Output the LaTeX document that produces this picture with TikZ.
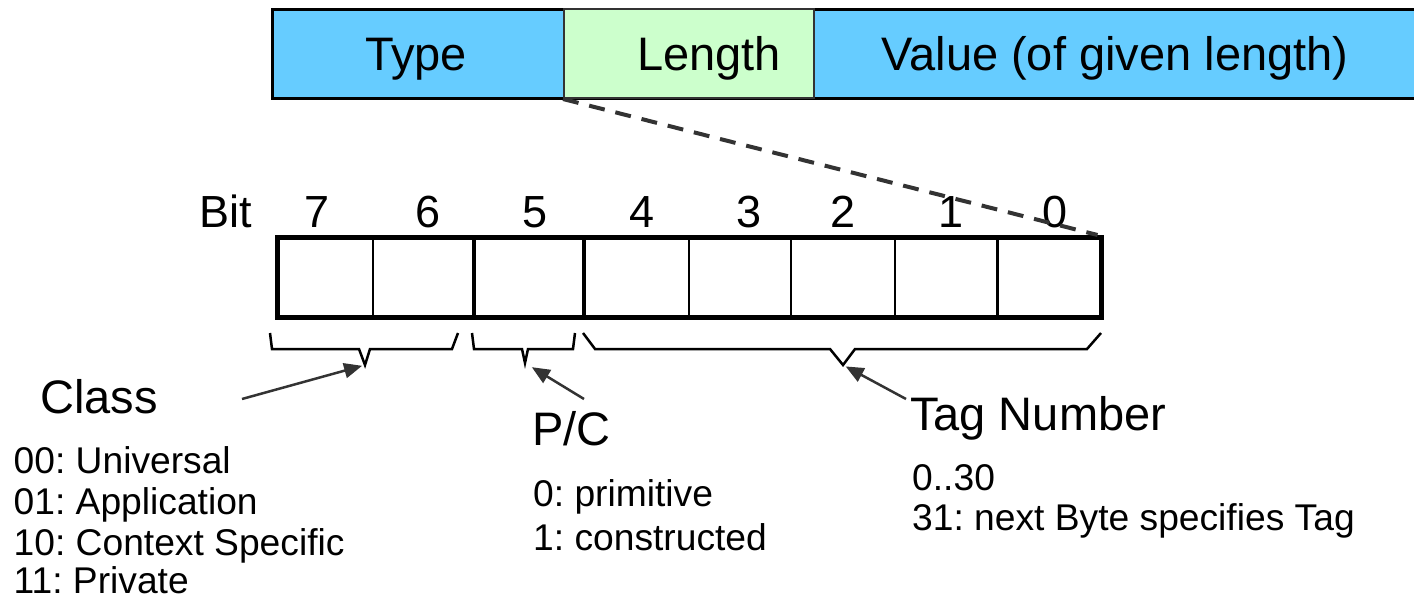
\documentclass[tikz,border=0pt]{standalone}
\usepackage{fontspec}
\setmainfont{Liberation Sans}
\usetikzlibrary{arrows.meta}
\definecolor{tlvblue}{HTML}{66CCFF}
\definecolor{tlvgreen}{HTML}{CCFFCC}
\definecolor{dgray}{HTML}{333333}
\frenchspacing
\begin{document}
\begin{tikzpicture}[x=1pt,y=-1pt,
  big/.style={font=\fontsize{47}{56}\selectfont, inner sep=0, anchor=base},
  mid/.style={font=\fontsize{47}{56}\selectfont, inner sep=0, anchor=base west},
  small/.style={font=\fontsize{37.2}{44}\selectfont, inner sep=0, anchor=base west},
  bitnum/.style={font=\fontsize{45}{54}\selectfont, inner sep=0, anchor=base},
  bracestyle/.style={line width=2.5pt, black, line join=miter},
  pointer/.style={line width=2.5pt, dgray, -{Triangle[length=18pt,width=15pt]}},
  thindiv/.style={line width=2.2pt, black},
  thickdiv/.style={line width=4.5pt, black},
  linkdash/.style={line width=4pt, dgray, dash pattern=on 16pt off 11pt},
]
\useasboundingbox (0,0) rectangle (1414,597);
\begin{scope}
\clip (0,0) rectangle (1414,597);
% top TLV bar
\node[draw=black, line width=3pt, fill=tlvblue, minimum width=1180pt, minimum height=89pt, inner sep=0, anchor=north west] (bar) at (271,8) {};
\node[draw=dgray, line width=2pt, fill=tlvgreen, minimum width=250pt, minimum height=89pt, inner sep=0, anchor=north west] (lenbox) at (563,8) {};
\node[big] (type) at (416,70) {Type};
\node[big] (length) at (709,70) {Length};
\node[big] (value) at (1115,70) {Value (of given length)};
\end{scope}

% bit labels
\node[bitnum, anchor=base west] (bit) at (199,227) {Bit};
\node[bitnum] (n7) at (317,227) {7};
\node[bitnum] (n6) at (428,227) {6};
\node[bitnum] (n5) at (535,227) {5};
\node[bitnum] (n4) at (642,227) {4};
\node[bitnum] (n3) at (749,227) {3};
\node[bitnum] (n2) at (843,227) {2};
\node[bitnum] (n1) at (951,227) {1};
\node[bitnum] (n0) at (1055,227) {0};

% byte cells
\foreach \x in {373,689,791,895,997.5} \draw[thindiv] (\x,235) -- (\x,315);
\foreach \x in {474,584} \draw[thickdiv] (\x,235) -- (\x,315);
\node[draw=black, line width=4.5pt, minimum width=824pt, minimum height=80pt, inner sep=0, anchor=north west] (byte) at (275,235) {};

% dashed link
\draw[linkdash] (lenbox.south west) -- ([xshift=-6pt]byte.north east);

% braces
\coordinate (ctip) at (365,365);
\coordinate (ptip) at (525,363);
\coordinate (ttip) at (843,365);
\draw[bracestyle] (270,333) -- (272,349) -- (359,349) -- (ctip) -- (370,349) -- (452,349) -- (458,333);
\draw[bracestyle] (472,333) -- (474,349) -- (522,349) -- (ptip) -- (528,349) -- (573,349) -- (575,333);
\draw[bracestyle] (583,333) -- (595,349) -- (830,349) -- (ttip) -- (855,349) -- (1087,349) -- (1101,333);

% labels
\node[mid] (class) at (40,413) {Class};
\node[small] (c0) at (13.5,473) {00: Universal};
\node[small] (c1) at (13.5,514) {01: Application};
\node[small] (c2) at (13.5,555) {10: Context Specific};
\node[small] (c3) at (13.5,593) {11: Private};

\node[mid] (pc) at (532,445) {P/C};
\node[small] (p0) at (533,506) {0: primitive};
\node[small] (p1) at (533,550) {1: constructed};

\node[mid] (tag) at (910,430) {Tag Number};
\node[small] (t0) at (912,490) {0..30};
\node[small] (t1) at (912,530) {31: next Byte specifies Tag};

% pointers
\coordinate (cfrom) at (242,399);
\coordinate (pfrom) at (584,399);
\coordinate (tfrom) at (906,399);
\draw[pointer, shorten >=3pt] (cfrom) -- (ctip);
\draw[pointer, shorten >=8pt] (pfrom) -- (ptip);
\draw[pointer, shorten >=3pt] (tfrom) -- (ttip);
\end{tikzpicture}
\end{document}
